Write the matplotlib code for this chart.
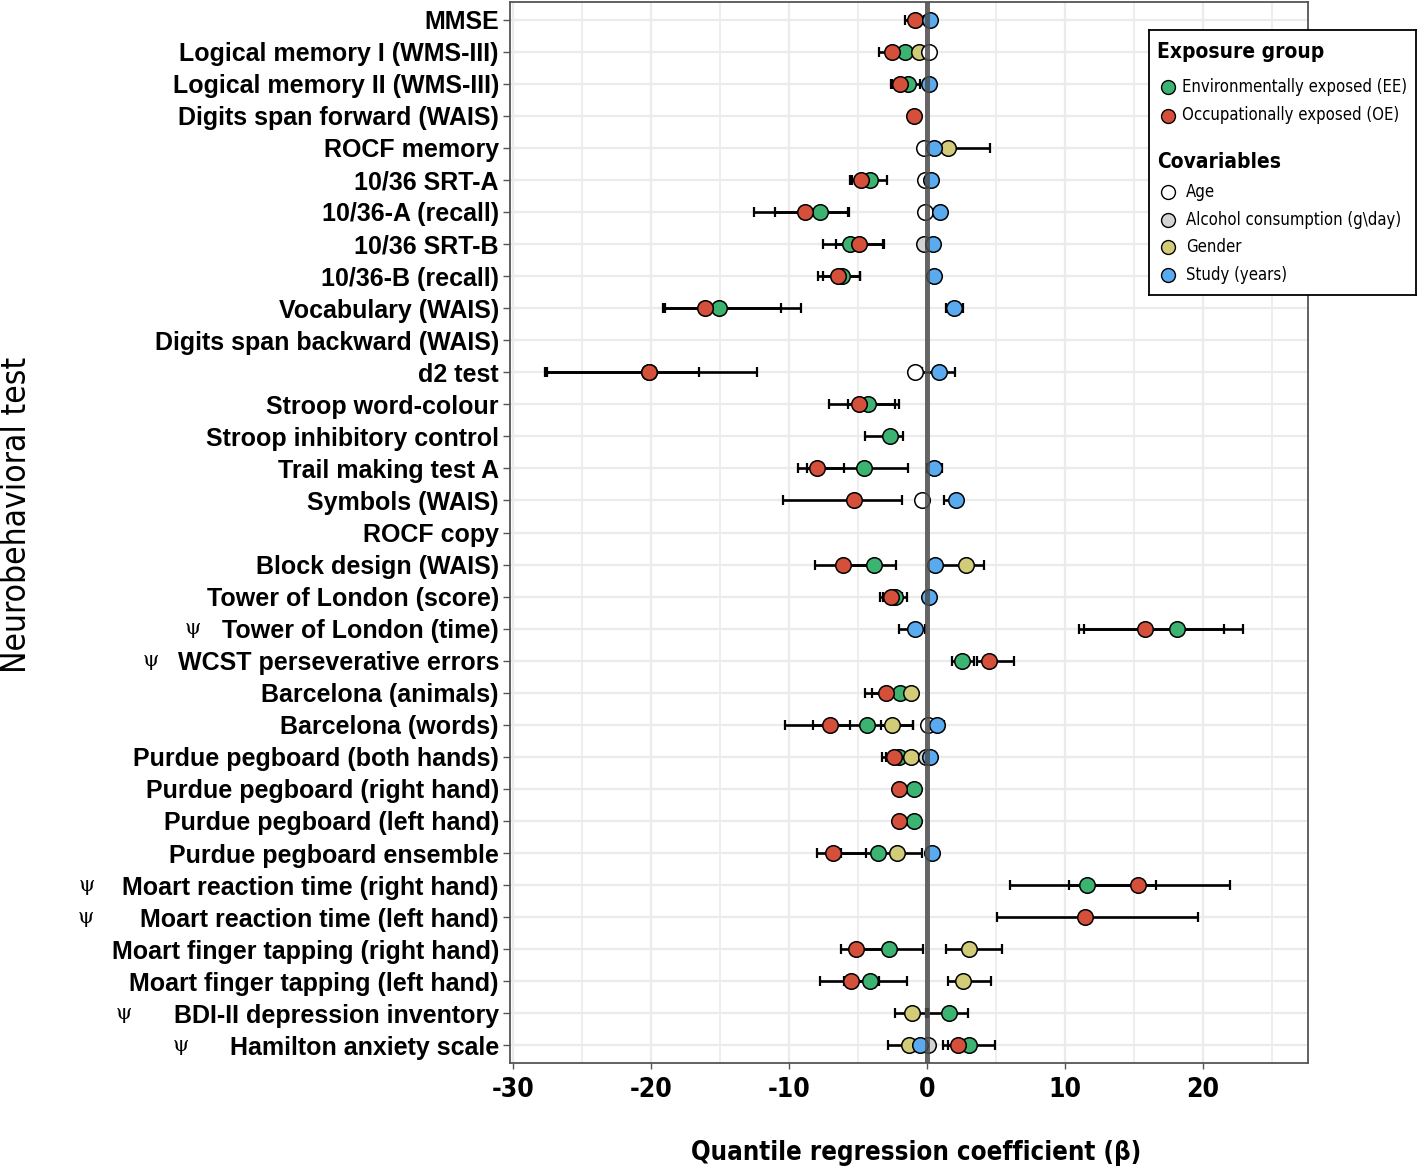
import numpy as np
import matplotlib
matplotlib.use("Agg")
import matplotlib.pyplot as plt
from matplotlib import font_manager
from matplotlib.transforms import blended_transform_factory

nan = np.nan

tests = ["MMSE", "Logical memory I (WMS-III)", "Logical memory II (WMS-III)",
         "Digits span forward (WAIS)", "ROCF memory", "10/36 SRT-A",
         "10/36-A (recall)", "10/36 SRT-B", "10/36-B (recall)",
         "Vocabulary (WAIS)", "Digits span backward (WAIS)", "d2 test",
         "Stroop word-colour", "Stroop inhibitory control", "Trail making test A",
         "Symbols (WAIS)", "ROCF copy", "Block design (WAIS)",
         "Tower of London (score)", "Tower of London (time)",
         "WCST perseverative errors", "Barcelona (animals)", "Barcelona (words)",
         "Purdue pegboard (both hands)", "Purdue pegboard (right hand)",
         "Purdue pegboard (left hand)", "Purdue pegboard ensemble",
         "Moart reaction time (right hand)", "Moart reaction time (left hand)",
         "Moart finger tapping (right hand)", "Moart finger tapping (left hand)",
         "BDI-II depression inventory", "Hamilton anxiety scale"]

# tests flagged with the psi symbol
psi_tests = ["Tower of London (time)", "WCST perseverative errors",
             "Moart reaction time (right hand)", "Moart reaction time (left hand)",
             "BDI-II depression inventory", "Hamilton anxiety scale"]

# Environmentally exposed (EE)
ee_val = [nan, -1.57, -1.38, nan, nan, -4.15, -7.72, -5.55, -6.15, -15.03, nan, -20.1,
          -4.27, -2.66, -4.59, nan, nan, -3.86, -2.29, 18.09, 2.53, -1.98, -4.34,
          -2.05, -0.97, -0.97, -3.55, 11.58, nan, -2.73, -4.10, 1.61, 3.06]
ee_lo = [nan, nan, -2.5, nan, nan, -5.4, -11.0, -7.5, -7.5, -19.0, nan, -27.5,
         -5.7, -4.5, -8.7, nan, nan, -6.0, -3.2, 11.4, 1.8, -4.0, -8.25,
         -3.0, nan, nan, -6.2, 6.0, nan, -5.0, -6.0, 0.05, 1.5]
ee_hi = [nan, nan, -0.5, nan, nan, -2.9, -5.65, -3.15, -4.85, -9.1, nan, -16.5,
         -2.05, -1.75, -1.4, nan, nan, -2.25, -1.45, 22.9, 3.4, -1.0, -1.0,
         -1.3, nan, nan, -0.36, 16.6, nan, -0.3, -1.45, 3.0, 4.94]

# Occupationally exposed (OE)
oe_val = [-0.85, -2.53, -1.93, -0.97, nan, -4.78, -8.8, -4.95, -6.47, -16.09, nan, -20.14,
          -4.95, nan, -7.96, -5.31, nan, -6.1, -2.6, 15.8, 4.53, -2.94, -7.0,
          -2.37, -2.0, -2.0, -6.8, 15.29, 11.45, -5.14, -5.5, nan, 2.22]
oe_lo = [-1.62, -3.5, -2.6, nan, nan, -5.55, -12.5, -6.59, -7.89, -19.1, nan, -27.7,
         -7.07, nan, -9.34, -10.42, nan, -8.08, -3.38, 11.04, 3.6, -4.46, -10.25,
         -3.26, nan, nan, -7.96, 10.32, 5.11, -6.22, -7.77, nan, 1.13]
oe_hi = [-0.2, -1.5, -1.2, nan, nan, -4.0, -5.7, -3.1, -4.83, -10.54, nan, -12.3,
         -2.29, nan, -6.0, -1.81, nan, -4.0, -1.8, 21.5, 6.27, -1.5, -5.6,
         -1.5, nan, nan, -4.39, 21.95, 19.65, -3.0, -3.5, nan, 3.3]

# Covariables
age_val = [nan, 0.12, nan, nan, -0.2, -0.12, -0.12, nan, nan, nan, nan, -0.9,
           nan, nan, nan, -0.36, nan, nan, nan, nan, nan, nan, 0.04,
           nan, nan, nan, nan, nan, nan, nan, nan, nan, nan]
alc_val = [nan, nan, nan, nan, nan, nan, nan, -0.24, nan, nan, nan, nan,
           nan, nan, nan, nan, nan, nan, nan, nan, nan, nan, nan,
           -0.05, nan, nan, nan, nan, nan, nan, nan, nan, 0.07]
gen_val = [nan, -0.56, nan, nan, 1.49, nan, nan, nan, nan, nan, nan, nan,
           nan, nan, nan, nan, nan, 2.82, nan, nan, nan, -1.16, -2.53,
           -1.16, nan, nan, -2.17, nan, nan, 3.06, 2.58, -1.09, -1.28]
gen_lo = [nan, nan, nan, nan, 0.5, nan, nan, nan, nan, nan, nan, nan,
          nan, nan, nan, nan, nan, 0.6, nan, nan, nan, nan, -3.33,
          nan, nan, nan, nan, nan, nan, 1.37, 1.49, -2.34, -2.85]
gen_hi = [nan, nan, nan, nan, 4.58, nan, nan, nan, nan, nan, nan, nan,
          nan, nan, nan, nan, nan, 4.1, nan, nan, nan, nan, -1.0,
          nan, nan, nan, nan, nan, nan, 5.43, 4.63, -0.05, 0.0]
stu_val = [0.19, nan, 0.12, nan, 0.53, 0.29, 0.96, 0.41, 0.48, 1.98, nan, 0.84,
           nan, nan, 0.48, 2.12, nan, 0.55, 0.12, -0.85, nan, nan, 0.72,
           0.24, nan, nan, 0.36, nan, nan, nan, nan, nan, -0.53]
stu_lo = [nan, nan, nan, nan, nan, nan, nan, nan, nan, 1.4, nan, -0.35,
          nan, nan, 0.0, 1.2, nan, nan, nan, -2.05, nan, nan, 0.3,
          nan, nan, nan, nan, nan, nan, nan, nan, nan, nan]
stu_hi = [nan, nan, nan, nan, nan, nan, nan, nan, nan, 2.6, nan, 2.05,
          nan, nan, 1.08, 2.5, nan, nan, nan, -0.12, nan, nan, 1.25,
          nan, nan, nan, nan, nan, nan, nan, nan, nan, nan]

exposure_labels = ["Environmentally exposed (EE)", "Occupationally exposed (OE)"]
covar_labels = ["Age", "Alcohol consumption (g\\day)", "Gender", "Study (years)"]

C_EE = "#3cb371"
C_OE = "#d4503a"
C_AGE = "#ffffff"
C_ALC = "#d3d3d3"
C_GEN = "#d2cb78"
C_STU = "#5aaaf0"

# ---- fonts ----
names = {f.name for f in font_manager.fontManager.ttflist}
cond_ok = any(f.name == "DejaVu Sans" and f.stretch == "condensed"
              for f in font_manager.fontManager.ttflist)
if "Liberation Sans Narrow" in names:
    COND = dict(family="Liberation Sans Narrow")
elif cond_ok:
    COND = dict(family="DejaVu Sans", stretch="condensed")
else:
    COND = dict(family="DejaVu Sans")

W, H = 1418, 1176
fig = plt.figure(figsize=(W / 100, H / 100), dpi=100)
ax = fig.add_axes([510 / W, 1 - 1063 / H, (1308 - 510) / W, (1063 - 2) / H])

y = np.arange(len(tests))

series = [
    (ee_val, ee_lo, ee_hi, C_EE),
    (oe_val, oe_lo, oe_hi, C_OE),
    (gen_val, gen_lo, gen_hi, C_GEN),
    (age_val, None, None, C_AGE),
    (alc_val, None, None, C_ALC),
    (stu_val, stu_lo, stu_hi, C_STU),
]

for val, lo, hi, col in series:
    if lo is not None:
        l = np.array(lo, float)
        h = np.array(hi, float)
        m = ~np.isnan(l)
        xc = (l[m] + h[m]) / 2
        ax.errorbar(xc, y[m], xerr=(h[m] - l[m]) / 2, fmt="none", ecolor="black",
                    elinewidth=1.9, capsize=3.8, capthick=1.6, zorder=3)
for val, lo, hi, col in series:
    v = np.array(val, float)
    m = ~np.isnan(v)
    ax.plot(v[m], y[m], "o", ms=11.2, mfc=col, mec="black", mew=1.1,
            linestyle="none", zorder=5)

ax.axvline(0, color="#4d4d4d", lw=3.6, alpha=0.85, zorder=8)

ax.set_xlim(-30.2, 27.6)
ax.set_ylim(len(tests) - 0.45, -0.55)
ax.set_xticks([-30, -20, -10, 0, 10, 20])
ax.set_xticks([-25, -15, -5, 5, 15, 25], minor=True)
ax.set_yticks(y)
ax.set_yticklabels(tests, fontfamily="Liberation Sans", fontweight="bold",
                   fontsize=18)
ax.set_xticklabels(["-30", "-20", "-10", "0", "10", "20"], fontsize=19,
                   fontweight="bold", **COND)
ax.grid(True, which="major", color="#ebebeb", lw=1.6, zorder=0)
ax.grid(True, which="minor", axis="x", color="#ebebeb", lw=1.2, zorder=0)
ax.set_axisbelow(True)
ax.tick_params(axis="y", length=5, width=1, color="#555555", pad=3)
ax.tick_params(axis="x", length=4, width=1, color="#555555", pad=6)
ax.tick_params(axis="x", which="minor", length=0)
for s in ax.spines.values():
    s.set_color("#555555")
    s.set_linewidth(1.3)

# psi markers
trans = blended_transform_factory(fig.transFigure, ax.transData)
psi_x = [193, 151, 87, 86, 124, 181]
for name, px in zip(psi_tests, psi_x):
    ax.text(px / W, tests.index(name), "\u03c8", transform=trans,
            ha="center", va="center", fontsize=15, family="DejaVu Serif",
            clip_on=False)

fig.text(916 / W, 1 - 1153 / H, "Quantile regression coefficient (\u03b2)",
         ha="center", va="center", fontsize=18.5, fontweight="bold", **COND)
fig.text(17 / W, 1 - 515 / H, "Neurobehavioral test", rotation=90,
         ha="center", va="center", fontsize=24, **COND)

# legend
lg = fig.add_axes([1149 / W, 1 - 295 / H, 267 / W, 265 / H])
lg.set_xlim(0, 267)
lg.set_ylim(265, 0)
lg.set_xticks([])
lg.set_yticks([])
for s in lg.spines.values():
    s.set_color("black")
    s.set_linewidth(1.3)
lg.text(8, 22, "Exposure group", fontsize=15, fontweight="bold", va="center",
        ha="left", **COND)
for i, (lab, col) in enumerate(zip(exposure_labels, [C_EE, C_OE])):
    yy = 57 + 28.5 * i
    lg.plot([19], [yy], "o", ms=10, mfc=col, mec="black", mew=1.0)
    lg.text(33, yy, lab, fontsize=12, va="center", ha="left", **COND)
lg.text(8, 132, "Covariables", fontsize=15, fontweight="bold", va="center",
        ha="left", **COND)
for i, (lab, col) in enumerate(zip(covar_labels, [C_AGE, C_ALC, C_GEN, C_STU])):
    yy = 162 + 27.7 * i
    lg.plot([19], [yy], "o", ms=10, mfc=col, mec="black", mew=1.0)
    lg.text(37, yy, lab, fontsize=12, va="center", ha="left", **COND)

fig.savefig("out.png", dpi=100)
